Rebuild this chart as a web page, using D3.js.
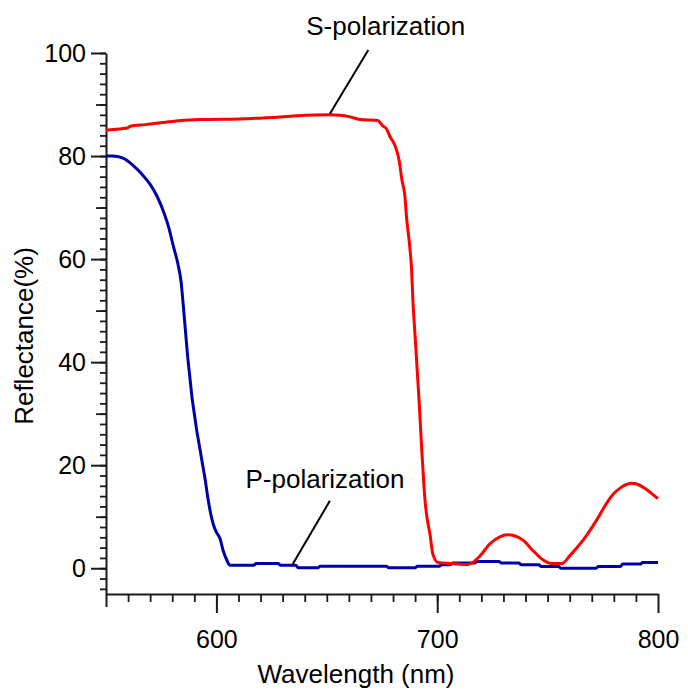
<!DOCTYPE html>
<html>
<head>
<meta charset="utf-8">
<script src="https://cdn.jsdelivr.net/npm/d3@7"></script>
<style>
	body { margin: 0; background: #fff; }
	text { font-family: Arial, "Liberation Sans", sans-serif; fill: #000; }
	.axis path, .axis line { stroke: #1a1a1a; }
</style>
</head>
<body>
<svg id="chart" width="688" height="690"></svg>
<script>
/*
 * reflectance vs wavelength, S and P polarization
 */

// S-polarization (red)
var sWave = [550, 552, 560, 561, 567.7, 575.8, 584, 595, 610, 629, 636.5, 651, 656, 660.5, 665, 673,
	675.5, 677, 678.6, 681, 682.7, 684, 685.4, 686.1, 687.4, 688.4, 689, 690, 691, 692, 693, 694,
	694.5, 695.5, 696.7, 698, 700.4, 707, 713.5, 716, 719.4, 724, 728.4, 731.6, 735, 739, 743.4,
	748, 752, 756.5, 760, 766, 772, 777, 780, 783, 786, 788, 790, 793, 796, 798, 800];
var sRefl = [85.0, 85.1, 85.5, 85.8, 86.1, 86.5, 86.9, 87.1, 87.2, 87.6, 87.8, 88.0, 87.9, 87.6, 87.1, 86.9,
	85.8, 85.3, 83.8, 81.9, 79.3, 75.4, 72.1, 68.2, 63.1, 57.9, 52, 45, 38, 31, 23, 16,
	13.1, 9.5, 6.7, 2.8, 1.1, 0.9, 0.7, 1.1, 2.4, 4.8, 6.1, 6.5, 6.3, 5.4, 3.4,
	1.6, 0.9, 0.9, 2.4, 5.4, 9.2, 12.8, 14.5, 15.6, 16.3, 16.5, 16.4, 15.8, 14.9, 14.2, 13.5];

// P-polarization (blue)
var pWave = [550, 553, 557.7, 562, 566, 570, 573, 576, 578.5, 580.5, 582.6, 584, 585, 586, 587,
	588, 589, 590, 591, 592, 593, 594, 595, 596, 597, 598, 599, 600, 601.6, 603, 604.7, 606,
	617, 618, 628, 629, 636, 637, 646, 647, 677, 678, 690, 691, 701, 702, 706, 707, 717, 718,
	728, 729, 737, 738, 746, 747, 755, 756, 772, 773, 783, 784, 792, 793, 800];
var pRefl = [80.0, 80.0, 79.6, 78.3, 76.6, 74.5, 72.3, 69.3, 66.0, 62.5, 59.0, 55.6, 51, 46, 41,
	37, 33, 30, 27, 24.5, 22, 19.5, 17, 14, 11.5, 9.5, 8, 7, 5.8, 3.5, 1.6, 0.6,
	0.6, 0.9, 0.9, 0.6, 0.6, 0.1, 0.1, 0.4, 0.4, 0.1, 0.1, 0.4, 0.4, 0.7, 0.7, 1.0, 1.0, 1.3,
	1.3, 1.0, 1.0, 0.7, 0.7, 0.35, 0.35, 0.0, 0.0, 0.35, 0.35, 0.8, 0.8, 1.1, 1.1];

var xMajorTicks = [600, 700, 800];
var yMajorTicks = [0, 20, 40, 60, 80, 100];

// annotation labels with leader lines, in data units
var labelText = ["S-polarization", "P-polarization"];
var labelAt = [[676.7, 103.4], [649.2, 15.5]];
var leaderFrom = [[668.8, 100.6], [651.4, 13.1]];
var leaderTo = [[651.4, 88.2], [634.6, 0.8]];

var S_COLOR = "#ff0000";
var P_COLOR = "#0000a8";
var TICK_FONT = 25;
var LABEL_FONT = 26;

var margin = {top: 53, right: 30, bottom: 96, left: 106};
var svg = d3.select("#chart");
var width = +svg.attr("width") - margin.left - margin.right;
var height = +svg.attr("height") - margin.top - margin.bottom;

var x = d3.scaleLinear()
	.domain([550, 800])
	.range([margin.left, margin.left + width]);

var y = d3.scaleLinear()
	.domain([-5, 100])
	.range([margin.top + height, margin.top]);

function drawAxes() {
	var bottom = margin.top + height;

	// x minor ticks every 10 nm
	svg.append("g")
		.attr("class", "axis")
		.attr("transform", "translate(0," + bottom + ")")
		.call(d3.axisBottom(x).tickValues(d3.range(560, 800, 10)).tickSize(8).tickSizeOuter(0).tickFormat(""))
		.call(function(g) { g.select(".domain").attr("stroke-width", 2); })
		.selectAll(".tick line").attr("stroke-width", 1.8);

	// left end tick
	svg.append("g")
		.attr("class", "axis")
		.attr("transform", "translate(0," + bottom + ")")
		.call(d3.axisBottom(x).tickValues([550]).tickSize(13).tickFormat(""))
		.call(function(g) { g.select(".domain").remove(); })
		.selectAll(".tick line").attr("stroke-width", 2);

	svg.append("g")
		.attr("class", "axis")
		.attr("transform", "translate(0," + bottom + ")")
		.call(d3.axisBottom(x).tickValues(xMajorTicks).tickSize(19).tickPadding(17))
		.call(function(g) { g.select(".domain").remove(); })
		.call(function(g) {
			g.selectAll(".tick line").attr("stroke-width", 2);
			g.selectAll(".tick text").style("font-size", TICK_FONT + "px");
		});

	// y ticks: minor every 2, medium every 10, major every 20
	svg.append("g")
		.attr("class", "axis")
		.attr("transform", "translate(" + margin.left + ",0)")
		.call(d3.axisLeft(y).tickValues(d3.range(-4, 101, 2)).tickSize(6).tickSizeOuter(0).tickFormat(""))
		.call(function(g) { g.select(".domain").attr("stroke-width", 2); })
		.selectAll(".tick line").attr("stroke-width", 1.8);

	svg.append("g")
		.attr("class", "axis")
		.attr("transform", "translate(" + margin.left + ",0)")
		.call(d3.axisLeft(y).tickValues([10, 30, 50, 70, 90]).tickSize(10).tickFormat(""))
		.call(function(g) { g.select(".domain").remove(); })
		.selectAll(".tick line").attr("stroke-width", 1.8);

	svg.append("g")
		.attr("class", "axis")
		.attr("transform", "translate(" + margin.left + ",0)")
		.call(d3.axisLeft(y).tickValues(yMajorTicks).tickSize(15).tickPadding(5))
		.call(function(g) { g.select(".domain").remove(); })
		.call(function(g) {
			g.selectAll(".tick line").attr("stroke-width", 2);
			g.selectAll(".tick text").style("font-size", TICK_FONT + "px");
		});

	svg.selectAll(".axis text").attr("fill", "#000");

	// axis titles
	svg.append("text")
		.attr("x", 356)
		.attr("y", 683)
		.attr("text-anchor", "middle")
		.style("font-size", LABEL_FONT + "px")
		.text("Wavelength (nm)");

	svg.append("text")
		.attr("transform", "translate(33,336) rotate(-90)")
		.attr("text-anchor", "middle")
		.style("font-size", LABEL_FONT + "px")
		.text("Reflectance(%)");
}

function drawSeries(waves, refl, color) {
	var line = d3.line()
		.curve(d3.curveMonotoneX)
		.x(function(d) { return x(d[0]); })
		.y(function(d) { return y(d[1]); });

	svg.append("path")
		.datum(d3.zip(waves, refl))
		.attr("fill", "none")
		.attr("stroke", color)
		.attr("stroke-width", 3)
		.attr("stroke-linejoin", "round")
		.attr("d", line);
}

function drawLabels() {
	for (var i = 0; i < labelText.length; i++) {
		svg.append("line")
			.attr("x1", x(leaderFrom[i][0]))
			.attr("y1", y(leaderFrom[i][1]))
			.attr("x2", x(leaderTo[i][0]))
			.attr("y2", y(leaderTo[i][1]))
			.attr("stroke", "#000")
			.attr("stroke-width", 2);

		svg.append("text")
			.attr("x", x(labelAt[i][0]))
			.attr("y", y(labelAt[i][1]))
			.attr("text-anchor", "middle")
			.style("font-size", LABEL_FONT + "px")
			.text(labelText[i]);
	}
}

drawAxes();
drawSeries(pWave, pRefl, P_COLOR);
drawSeries(sWave, sRefl, S_COLOR);
drawLabels();
</script>
</body>
</html>
